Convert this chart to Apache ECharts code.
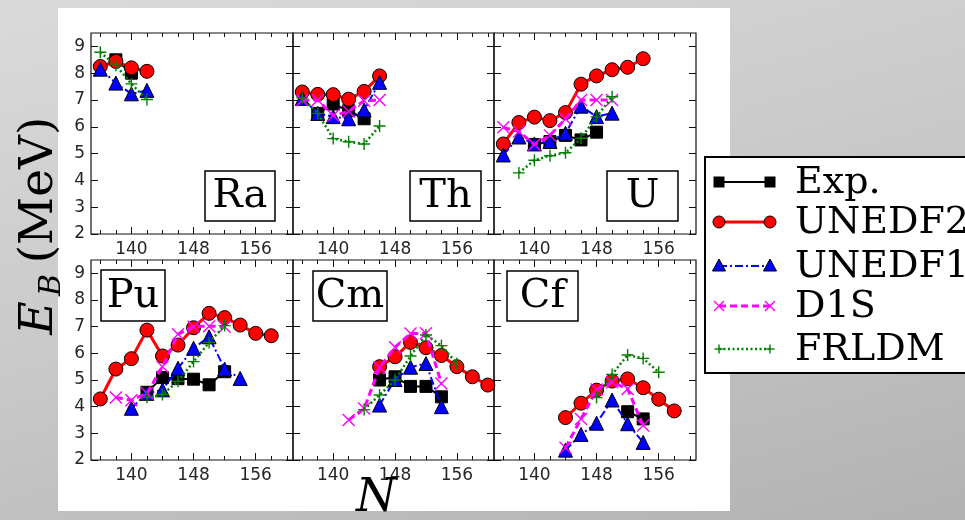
<!DOCTYPE html>
<html><head><meta charset="utf-8">
<script src="https://cdn.jsdelivr.net/npm/echarts@6/dist/echarts.min.js"></script>
<style>
html,body{margin:0;padding:0;width:965px;height:520px;overflow:hidden;}
body{background:linear-gradient(165deg,#dadada 0%,#cacaca 45%,#b2b2b2 100%);}
#paper{position:absolute;left:58px;top:8px;width:672px;height:503px;background:#fff;}
#chart{position:absolute;left:0;top:0;width:965px;height:520px;}
</style></head><body>
<div id="paper"></div><div id="chart"></div>
<script>
// ---------- data ----------
const seriesNames = ['Exp.', 'UNEDF2', 'UNEDF1', 'D1S', 'FRLDM'];
const elements = ['Ra', 'Th', 'U', 'Pu', 'Cm', 'Cf'];
const xTickLabels = [140, 148, 156];
const xMinorTicks = [136, 138, 142, 144, 146, 150, 152, 154, 158, 160];
const yTickLabels = [2, 3, 4, 5, 6, 7, 8, 9];

const ra_exp = [[138, 8.5], [140, 8.0]];
const ra_unedf2 = [[136, 8.25], [138, 8.44], [140, 8.2], [142, 8.07]];
const ra_unedf1 = [[136, 8.15], [138, 7.63], [140, 7.23], [142, 7.36]];
const ra_d1s = [];
const ra_frldm = [[136, 8.78], [138, 8.3], [140, 7.6], [142, 7.02]];

const th_exp = [[138, 6.5], [140, 6.85], [142, 6.6], [144, 6.3]];
const th_unedf2 = [[136, 7.3], [138, 7.21], [140, 7.2], [142, 7.03], [144, 7.32], [146, 7.9]];
const th_unedf1 = [[136, 7.06], [138, 6.5], [140, 6.38], [142, 6.3], [144, 6.63], [146, 7.66]];
const th_d1s = [[136, 6.99], [138, 7.0], [140, 6.42], [142, 6.57], [144, 6.97], [146, 7.0]];
const th_frldm = [[136, 7.08], [138, 6.5], [140, 5.56], [142, 5.44], [144, 5.36], [146, 6.03]];

const u_exp = [[140, 5.34], [142, 5.45], [144, 5.68], [146, 5.51], [148, 5.8]];
const u_unedf2 = [[136, 5.36], [138, 6.16], [140, 6.36], [142, 6.23], [144, 6.53], [146, 7.59], [148, 7.9], [150, 8.13], [152, 8.22], [154, 8.54]];
const u_unedf1 = [[136, 4.95], [138, 5.62], [140, 5.36], [142, 5.45], [144, 5.76], [146, 6.77], [148, 6.38], [150, 6.51]];
const u_d1s = [[136, 5.98], [138, 5.82], [140, 5.34], [142, 5.68], [144, 6.29], [146, 7.0], [148, 7.0], [150, 7.0]];
const u_frldm = [[138, 4.28], [140, 4.75], [142, 4.92], [144, 5.03], [146, 5.57], [148, 6.37], [150, 7.12]];

const pu_exp = [[142, 4.54], [144, 5.09], [146, 5.05], [148, 5.03], [150, 4.82], [152, 5.31]];
const pu_unedf2 = [[136, 4.29], [138, 5.41], [140, 5.8], [142, 6.87], [144, 5.9], [146, 6.31], [148, 6.96], [150, 7.5], [152, 7.34], [154, 7.06], [156, 6.75], [158, 6.66]];
const pu_unedf1 = [[140, 3.94], [142, 4.5], [144, 4.63], [146, 5.44], [148, 6.19], [150, 6.62], [152, 5.41], [154, 5.06]];
const pu_d1s = [[138, 4.34], [140, 4.24], [142, 4.5], [144, 5.5], [146, 6.72], [148, 7.0], [150, 7.02], [152, 7.0]];
const pu_frldm = [[142, 4.35], [144, 4.46], [146, 4.95], [148, 5.69], [150, 6.41], [152, 7.04]];

const cm_exp = [[146, 5.0], [148, 5.12], [150, 4.76], [152, 4.76], [154, 4.37]];
const cm_unedf2 = [[146, 5.5], [148, 5.87], [150, 6.41], [152, 6.21], [154, 5.92], [156, 5.5], [158, 5.12], [160, 4.81]];
const cm_unedf1 = [[146, 4.06], [148, 5.02], [150, 5.48], [152, 5.62], [154, 4.0]];
const cm_d1s = [[142, 3.5], [144, 3.93], [146, 5.47], [148, 6.23], [150, 6.74], [152, 6.75], [154, 4.87]];
const cm_frldm = [[144, 3.89], [146, 4.44], [148, 5.0], [150, 5.9], [152, 6.69], [154, 6.29], [156, 5.62]];

const cf_exp = [[152, 3.81], [154, 3.54]];
const cf_unedf2 = [[144, 3.59], [146, 4.13], [148, 4.62], [150, 4.96], [152, 5.04], [154, 4.71], [156, 4.28], [158, 3.84]];
const cf_unedf1 = [[144, 2.37], [146, 2.96], [148, 3.38], [150, 4.25], [152, 3.36], [154, 2.66]];
const cf_d1s = [[144, 2.46], [146, 3.54], [148, 4.64], [150, 4.92], [152, 4.66], [154, 3.29]];
const cf_frldm = [[148, 4.34], [150, 5.21], [152, 5.94], [154, 5.81], [156, 5.29]];

const panelData = [
  [ra_exp, ra_unedf2, ra_unedf1, ra_d1s, ra_frldm],
  [th_exp, th_unedf2, th_unedf1, th_d1s, th_frldm],
  [u_exp, u_unedf2, u_unedf1, u_d1s, u_frldm],
  [pu_exp, pu_unedf2, pu_unedf1, pu_d1s, pu_frldm],
  [cm_exp, cm_unedf2, cm_unedf1, cm_d1s, cm_frldm],
  [cf_exp, cf_unedf2, cf_unedf1, cf_d1s, cf_frldm]
];

// ---------- layout / style ----------
const colLeft = [91, 293, 494], colWidth = [202, 201, 202];
const rowTop = [33, 260], rowHeight = [201, 200];
const X_MIN = 134.8, X_MAX = 160.8, Y_MIN = 2, Y_MAX = 9.5;
const XPATH = 'path://M0,0L10,10M10,0L0,10';
const PLUSPATH = 'path://M5,0L5,10M0,5L10,5';
const styles = [
  { symbol: 'rect', size: 12, line: { color: '#000', width: 2, type: 'solid' }, item: { color: '#000', borderColor: '#000', borderWidth: 1 } },
  { symbol: 'circle', size: 14, line: { color: '#ff0000', width: 3, type: 'solid' }, item: { color: '#ff0000', borderColor: '#000', borderWidth: 1 } },
  { symbol: 'triangle', size: 14, line: { color: '#0000ff', width: 2, type: [8, 3, 2, 3] }, item: { color: '#0000ff', borderColor: '#000', borderWidth: 1 } },
  { symbol: XPATH, size: 12, line: { color: '#ff00ff', width: 3, type: [7, 4] }, item: { color: '#ff00ff', borderColor: '#ff00ff', borderWidth: 1.4 } },
  { symbol: PLUSPATH, size: 12, line: { color: '#008000', width: 2.5, type: [2, 2.5] }, item: { color: '#008000', borderColor: '#008000', borderWidth: 1.4 } }
];
const labelBoxes = [
  [205, 171, 70, 50], [410, 171, 71, 50], [607, 171, 71, 50],
  [101, 270, 64, 51], [313, 271, 74, 50], [507, 271, 71, 50]
];
const tickColor = '#111';
const labelFont = { fontSize: 17, color: '#262626', fontFamily: 'DejaVu Sans' };

const grids = [], xAxes = [], yAxes = [], series = [];
for (let p = 0; p < 6; p++) {
  const r = Math.floor(p / 3), c = p % 3;
  grids.push({ left: colLeft[c], top: rowTop[r], width: colWidth[c], height: rowHeight[r],
    show: true, borderColor: '#111', borderWidth: 1.2, backgroundColor: 'transparent' });
  const xBase = { gridIndex: p, type: 'value', min: X_MIN, max: X_MAX,
    axisLine: { show: false }, splitLine: { show: false } };
  xAxes.push(Object.assign({}, xBase, { position: 'bottom',
    axisTick: { inside: true, length: 7, customValues: xTickLabels, lineStyle: { color: tickColor, width: 1 } },
    axisLabel: Object.assign({ show: true, customValues: xTickLabels, margin: 7 }, labelFont) }));
  xAxes.push(Object.assign({}, xBase, { position: 'bottom',
    axisTick: { inside: true, length: 4, customValues: xMinorTicks, lineStyle: { color: tickColor, width: 1 } },
    axisLabel: { show: false } }));
  xAxes.push(Object.assign({}, xBase, { position: 'top',
    axisTick: { inside: true, length: 7, customValues: xTickLabels, lineStyle: { color: tickColor, width: 1 } },
    axisLabel: { show: false } }));
  xAxes.push(Object.assign({}, xBase, { position: 'top',
    axisTick: { inside: true, length: 4, customValues: xMinorTicks, lineStyle: { color: tickColor, width: 1 } },
    axisLabel: { show: false } }));
  const yBase = { gridIndex: p, type: 'value', min: Y_MIN, max: Y_MAX,
    axisLine: { show: false }, splitLine: { show: false } };
  yAxes.push(Object.assign({}, yBase, { position: 'left',
    axisTick: { inside: true, length: 7, customValues: yTickLabels, lineStyle: { color: tickColor, width: 1 } },
    axisLabel: Object.assign({ show: c === 0, customValues: yTickLabels, margin: 6 }, labelFont) }));
  yAxes.push(Object.assign({}, yBase, { position: 'right',
    axisTick: { inside: true, length: 7, customValues: yTickLabels, lineStyle: { color: tickColor, width: 1 } },
    axisLabel: { show: false } }));
  for (let s = 0; s < 5; s++) {
    const st = styles[s];
    series.push({
      name: seriesNames[s], type: 'line', xAxisIndex: p * 4, yAxisIndex: p * 2,
      data: panelData[p][s], symbol: st.symbol, symbolSize: st.size, showSymbol: true,
      lineStyle: st.line, itemStyle: st.item, silent: true, animation: false,
      emphasis: { disabled: true }, z: 2 + s * 0.01
    });
  }
}

// ---------- graphics: panel labels, legend, axis titles ----------
const graphics = [];
for (let p = 0; p < 6; p++) {
  const b = labelBoxes[p];
  graphics.push({ type: 'rect', z: 50, shape: { x: b[0], y: b[1], width: b[2], height: b[3] },
    style: { fill: '#fff', stroke: '#000', lineWidth: 1.5 } });
  graphics.push({ type: 'text', z: 51, x: b[0] + b[2] / 2, y: b[1] + b[3] / 2 + 1,
    style: { text: elements[p], fontSize: 40, fontFamily: 'DejaVu Serif', fill: '#000', align: 'center', verticalAlign: 'middle' } });
}
// legend
graphics.push({ type: 'rect', z: 60, shape: { x: 705, y: 157, width: 280, height: 216 },
  style: { fill: '#fff', stroke: '#000', lineWidth: 2 } });
const legY = [182, 222, 266, 306, 349];
const lx1 = 719, lx2 = 770;
for (let s = 0; s < 5; s++) {
  const y = legY[s], st = styles[s];
  const dash = st.line.type === 'solid' ? null : st.line.type;
  graphics.push({ type: 'line', z: 61, shape: { x1: lx1, y1: y, x2: lx2, y2: y },
    style: { stroke: st.line.color, lineWidth: st.line.width, lineDash: dash } });
  [lx1, lx2].forEach(function (cx) {
    if (s === 0) graphics.push({ type: 'rect', z: 62, shape: { x: cx - 5.5, y: y - 5.5, width: 11, height: 11 }, style: { fill: '#000' } });
    if (s === 1) graphics.push({ type: 'circle', z: 62, shape: { cx: cx, cy: y, r: 6 }, style: { fill: '#ff0000', stroke: '#000', lineWidth: 1 } });
    if (s === 2) graphics.push({ type: 'polygon', z: 62, shape: { points: [[cx, y - 7], [cx - 6.5, y + 5], [cx + 6.5, y + 5]] }, style: { fill: '#0000ff', stroke: '#000', lineWidth: 1 } });
    if (s === 3) {
      graphics.push({ type: 'line', z: 62, shape: { x1: cx - 5, y1: y - 5, x2: cx + 5, y2: y + 5 }, style: { stroke: '#ff00ff', lineWidth: 1.4 } });
      graphics.push({ type: 'line', z: 62, shape: { x1: cx - 5, y1: y + 5, x2: cx + 5, y2: y - 5 }, style: { stroke: '#ff00ff', lineWidth: 1.4 } });
    }
    if (s === 4) {
      graphics.push({ type: 'line', z: 62, shape: { x1: cx - 4.5, y1: y, x2: cx + 4.5, y2: y }, style: { stroke: '#008000', lineWidth: 1.4 } });
      graphics.push({ type: 'line', z: 62, shape: { x1: cx, y1: y - 4.5, x2: cx, y2: y + 4.5 }, style: { stroke: '#008000', lineWidth: 1.4 } });
    }
  });
  graphics.push({ type: 'text', z: 62, x: 795, y: y + 1,
    style: { text: seriesNames[s], fontSize: 38, fontFamily: 'DejaVu Serif', fill: '#000', align: 'left', verticalAlign: 'middle' } });
}
// y axis title  E_B (MeV)
graphics.push({ type: 'text', z: 40, x: 40, y: 318, rotation: Math.PI / 2,
  style: { text: 'E', fontSize: 46, fontFamily: 'DejaVu Serif', fontStyle: 'italic', fill: '#000', align: 'center', verticalAlign: 'middle' } });
graphics.push({ type: 'text', z: 40, x: 52, y: 285, rotation: Math.PI / 2,
  style: { text: 'B', fontSize: 30, fontFamily: 'DejaVu Serif', fontStyle: 'italic', fill: '#000', align: 'center', verticalAlign: 'middle' } });
graphics.push({ type: 'text', z: 40, x: 40, y: 190, rotation: Math.PI / 2,
  style: { text: '(MeV)', fontSize: 47, fontFamily: 'DejaVu Serif', fill: '#000', align: 'center', verticalAlign: 'middle' } });
// x axis title N
graphics.push({ type: 'text', z: 40, x: 376, y: 499,
  style: { text: 'N', fontSize: 46, fontFamily: 'DejaVu Serif', fontStyle: 'italic', fill: '#000', align: 'center', verticalAlign: 'middle' } });

const chart = echarts.init(document.getElementById('chart'), null, { renderer: 'canvas' });
chart.setOption({
  backgroundColor: 'transparent',
  animation: false,
  grid: grids, xAxis: xAxes, yAxis: yAxes, series: series,
  graphic: { elements: graphics }
});
</script></body></html>
